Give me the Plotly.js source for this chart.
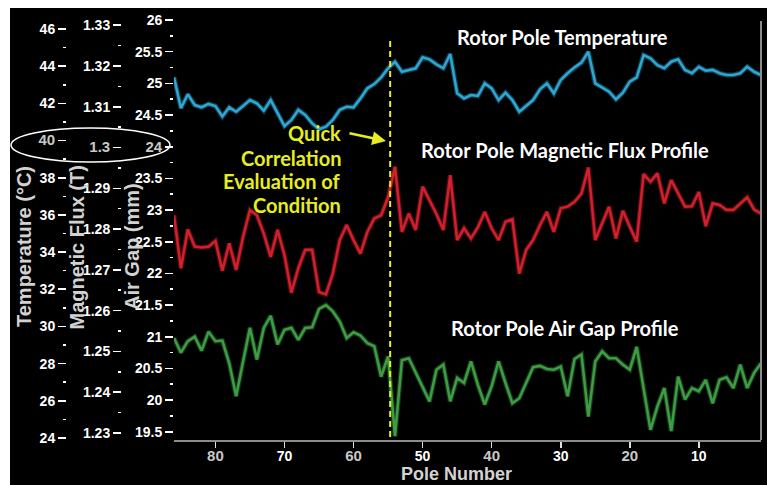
<!DOCTYPE html>
<html>
<head>
<meta charset="utf-8">
<script src="https://cdn.plot.ly/plotly-3.0.1.min.js"></script>
<style>
  html, body { margin: 0; padding: 0; background: #ffffff; width: 772px; height: 485px; overflow: hidden; }
  #chart { position: absolute; left: 10px; top: 8px; width: 757px; height: 477px; }
</style>
</head>
<body>
<div id="chart"></div>
<script>
// Pole numbers, counted down from the first pole scanned
const poles = [86,85,84,83,82,81,80,79,78,77,76,75,74,73,72,71,70,69,68,67,66,65,64,63,62,61,60,59,58,57,
  56,55,54,53,52,51,50,49,48,47,46,45,44,43,42,41,40,39,38,37,36,35,34,33,32,31,30,29,28,27,
  26,25,24,23,22,21,20,19,18,17,16,15,14,13,12,11,10,9,8,7,6,5,4,3,2,1];

// Rotor pole temperature (°C)
const temperature = [43.4,41.74,42.49,41.91,41.79,41.97,41.86,41.29,41.79,41.55,41.86,42.18,42.0,41.61,42.18,41.47,40.78,41.11,41.65,41.38,
  40.93,40.61,40.75,41.11,41.65,41.82,41.79,42.27,42.81,43.04,43.40,43.89,44.24,43.70,43.80,43.89,44.48,44.37,44.10,43.89,
  44.66,42.54,42.27,42.45,42.40,43.08,42.81,42.18,42.58,42.18,41.55,41.86,42.18,42.76,43.08,42.54,43.26,43.62,43.94,44.19,
  44.78,43.08,42.87,42.63,42.22,42.58,43.17,43.40,44.60,44.42,44.06,43.89,44.24,44.37,43.80,43.62,43.97,43.76,43.80,43.62,
  43.53,43.53,43.62,43.97,43.70,43.53];

// Rotor pole magnetic flux (T)
const flux = [1.2834,1.2704,1.2799,1.2757,1.2755,1.2757,1.2771,1.2698,1.2765,1.2700,1.2781,1.2847,1.2834,1.2789,1.2732,1.2798,1.2736,1.2644,1.2704,1.2749,
  1.2749,1.2646,1.2640,1.2691,1.2773,1.2810,1.2773,1.2740,1.2793,1.2826,1.2834,1.2878,1.2953,1.2793,1.2838,1.2798,1.2904,1.2871,1.2837,1.2798,
  1.2932,1.2773,1.2802,1.2777,1.2804,1.2842,1.2802,1.2773,1.2818,1.2824,1.2691,1.2749,1.2773,1.2810,1.2842,1.2793,1.2851,1.2855,1.2867,1.2887,
  1.2951,1.2773,1.2814,1.2855,1.2777,1.2845,1.2806,1.2769,1.2935,1.2916,1.2937,1.2863,1.2920,1.2887,1.2855,1.2856,1.2891,1.2807,1.2863,1.2859,
  1.2847,1.2847,1.2863,1.2878,1.2848,1.2838];

// Rotor pole air gap (mm)
const airGap = [20.98,20.75,20.93,21.00,20.78,21.08,20.93,20.94,20.58,20.06,20.61,21.14,20.64,21.14,21.33,20.88,21.11,21.14,20.95,21.14,
  21.15,21.44,21.50,21.40,21.24,20.98,21.07,21.02,20.90,20.85,20.37,20.69,19.43,20.63,20.66,20.43,20.22,19.98,20.48,20.56,
  19.98,20.35,20.27,20.61,20.24,19.93,20.22,20.61,20.27,19.95,20.03,20.27,20.52,20.54,20.49,20.48,20.53,20.06,20.65,20.72,
  19.74,20.61,20.77,20.66,20.66,20.56,20.48,20.84,20.16,19.53,19.90,20.19,19.51,20.37,20.01,20.19,20.14,20.32,19.95,20.32,
  20.36,20.19,20.56,20.19,20.43,20.58];

// Axis tick values and labels
const poleTicks = [80,70,60,50,40,30,20,10];
const poleTickText = ['80','70','60','50','40','30','20','10'];
const tempTicks = [24,26,28,30,32,34,36,38,40,42,44,46];
const tempTickText = ['24','26','28','30','32','34','36','38','40','42','44','46'];
const fluxTicks = [1.23,1.24,1.25,1.26,1.27,1.28,1.29,1.3,1.31,1.32,1.33];
const fluxTickText = ['1.23','1.24','1.25','1.26','1.27','1.28','1.29','1.3','1.31','1.32','1.33'];
const gapTicks = [19.5,20,20.5,21,21.5,22,22.5,23,23.5,24,24.5,25,25.5,26];
const gapTickText = ['19.5','20','20.5','21','21.5','22','22.5','23','23.5','24','24.5','25','25.5','26'];

// Labels shown dimmed (the circled reference row and alternate pole ticks)
const dimmed = ['80','60','40','20'];
const dimTemp = '40', dimFlux = '1.3', dimGap = '24';
const dim = t => '<span style="fill:#c8c8c8;font-weight:bold;font-size:15px">' + t + '</span>';

const WHITE = '#ffffff';
const YELLOW = '#e6ee1e';
const tickFont = { family: 'Liberation Sans, Arial, sans-serif', size: 14, color: WHITE, weight: 'bold' };
const titleFont = { family: 'Lato, sans-serif', size: 20, color: WHITE, weight: 'bold' };
const axisTitleFont = { family: 'Liberation Sans, Arial, sans-serif', size: 20, color: '#d2d2d2', weight: 'bold' };
const noteFont = { family: 'Lato, sans-serif', size: 20, color: YELLOW, weight: 'bold' };

// Each profile: a soft halo underneath a crisp line
function line(y, axis, color) {
  return [
    { x: poles, y: y, yaxis: axis, type: 'scatter', mode: 'lines', hoverinfo: 'skip',
      line: { color: color, width: 5 }, opacity: 0.35, showlegend: false },
    { x: poles, y: y, yaxis: axis, type: 'scatter', mode: 'lines',
      line: { color: color, width: 2.6 }, showlegend: false }
  ];
}

const traces = [].concat(
  line(temperature, 'y2', '#2ea6d2'),
  line(flux, 'y3', '#d0202c'),
  line(airGap, 'y', '#3d9c44')
);

const yCommon = {
  showgrid: false, zeroline: false, showline: false,
  ticks: 'outside', ticklen: 8, tickwidth: 1.6, tickcolor: WHITE,
  tickfont: tickFont, tickmode: 'array', fixedrange: true
};
const minorCommon = { ticks: 'outside', ticklen: 3, tickwidth: 1.6, tickcolor: WHITE, tickmode: 'linear' };

const layout = {
  width: 757, height: 477,
  margin: { l: 2, r: 6, t: 11, b: 45 },
  paper_bgcolor: '#000000', plot_bgcolor: '#000000',
  showlegend: false,
  xaxis: {
    domain: [0.2163, 1], range: [86, 1],
    showgrid: false, zeroline: false,
    showline: true, linecolor: '#8c8c8c', linewidth: 2,
    ticks: 'outside', ticklen: 6, tickwidth: 1.6, tickcolor: '#e0e0e0',
    ticklabelstandoff: -4,
    tickmode: 'array', tickvals: poleTicks,
    ticktext: poleTickText.map(t => dimmed.includes(t) ? dim(t) : t),
    tickfont: tickFont
  },
  // Air gap, drawn on the plot's left edge
  yaxis: Object.assign({}, yCommon, {
    range: [19.37, 26.016],
    tickvals: gapTicks, ticktext: gapTickText.map(t => t === dimGap ? dim(t) : t),
    minor: Object.assign({}, minorCommon, { tick0: 19.75, dtick: 0.5 })
  }),
  // Temperature, outermost scale
  yaxis2: Object.assign({}, yCommon, {
    range: [23.89, 46.54], anchor: 'free', position: 0.0721, overlaying: 'y', side: 'left',
    tickvals: tempTicks, ticktext: tempTickText.map(t => t === dimTemp ? dim(t) : t),
    minor: Object.assign({}, minorCommon, { tick0: 25, dtick: 2 })
  }),
  // Magnetic flux, middle scale
  yaxis3: Object.assign({}, yCommon, {
    range: [1.2283, 1.3315], anchor: 'free', position: 0.1455, overlaying: 'y', side: 'left',
    tickvals: fluxTicks, ticktext: fluxTickText.map(t => t === dimFlux ? dim(t) : t),
    minor: Object.assign({}, minorCommon, { tick0: 1.235, dtick: 0.01 })
  }),
  shapes: [
    // right frame edge
    { type: 'line', xref: 'paper', yref: 'paper', x0: 1, x1: 1, y0: 0, y1: 0.9952,
      line: { color: '#8c8c8c', width: 2 } },
    // marker line at the start of the correlated region
    { type: 'line', xref: 'x', yref: 'paper', x0: 54.7, x1: 54.7, y0: 0.0071, y1: 0.9501,
      line: { color: YELLOW, width: 2, dash: '6px,4px' } },
    // ring around the reference row of the three scales
    { type: 'circle', xref: 'paper', yref: 'paper', x0: -0.0013, x1: 0.2109, y0: 0.6603, y1: 0.7411,
      line: { color: WHITE, width: 1.5 } }
  ],
  annotations: [
    { text: 'Temperature (°C)', xref: 'paper', yref: 'paper', x: 0.016, y: 0.4608, textangle: -90,
      showarrow: false, font: axisTitleFont, xanchor: 'center', yanchor: 'middle' },
    { text: 'Magnetic Flux (T)', xref: 'paper', yref: 'paper', x: 0.0868, y: 0.4572, textangle: -90,
      showarrow: false, font: axisTitleFont, xanchor: 'center', yanchor: 'middle' },
    { text: 'Air Gap (mm)', xref: 'paper', yref: 'paper', x: 0.1602, y: 0.4608, textangle: -90,
      showarrow: false, font: axisTitleFont, xanchor: 'center', yanchor: 'middle' },
    { text: 'Pole Number', xref: 'paper', yref: 'paper', x: 0.5941, y: -0.0808,
      showarrow: false, font: Object.assign({}, axisTitleFont, { size: 18 }), xanchor: 'center', yanchor: 'middle' },

    { text: 'Rotor Pole Temperature', xref: 'paper', yref: 'paper', x: 0.7356, y: 0.9572,
      showarrow: false, font: titleFont, xanchor: 'center', yanchor: 'middle' },
    { text: 'Rotor Pole Magnetic Flux Profile', xref: 'paper', yref: 'paper', x: 0.7383, y: 0.6888,
      showarrow: false, font: titleFont, xanchor: 'center', yanchor: 'middle' },
    { text: 'Rotor Pole Air Gap Profile', xref: 'paper', yref: 'paper', x: 0.7383, y: 0.2660,
      showarrow: false, font: titleFont, xanchor: 'center', yanchor: 'middle' },

    { text: 'Quick', xref: 'paper', yref: 'paper', x: 0.4419, y: 0.7292,
      showarrow: false, font: noteFont, xanchor: 'right', yanchor: 'middle' },
    { text: 'Correlation', xref: 'paper', yref: 'paper', x: 0.4419, y: 0.6698,
      showarrow: false, font: noteFont, xanchor: 'right', yanchor: 'middle' },
    { text: 'Evaluation of', xref: 'paper', yref: 'paper', x: 0.4419, y: 0.6152,
      showarrow: false, font: noteFont, xanchor: 'right', yanchor: 'middle' },
    { text: 'Condition', xref: 'paper', yref: 'paper', x: 0.4419, y: 0.5582,
      showarrow: false, font: noteFont, xanchor: 'right', yanchor: 'middle' },
    { text: '', xref: 'paper', yref: 'paper', x: 0.4993, y: 0.7102, ax: -38, ay: -8,
      showarrow: true, arrowhead: 2, arrowsize: 1.1, arrowwidth: 2.5, arrowcolor: YELLOW }
  ]
};

Plotly.newPlot('chart', traces, layout, { staticPlot: true, displayModeBar: false });
</script>
</body>
</html>
